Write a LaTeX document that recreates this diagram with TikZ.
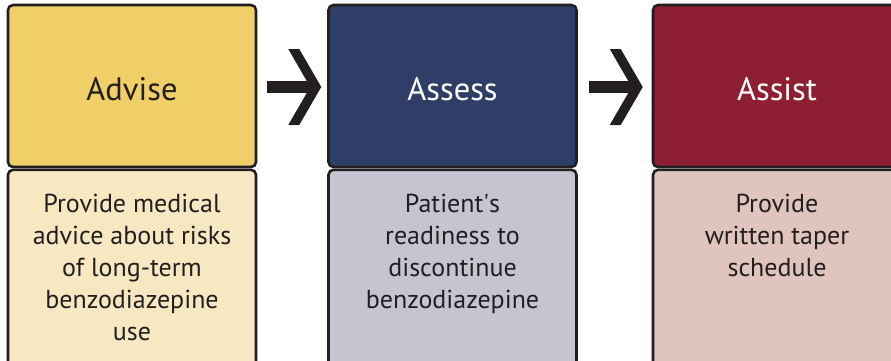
\documentclass[tikz,border=0pt]{standalone}
\usepackage{fontspec}
\setmainfont{PT Sans}
\usetikzlibrary{calc}
\definecolor{ink}{HTML}{231F20}
\definecolor{yelH}{HTML}{F0CF68}
\definecolor{yelB}{HTML}{F8E8C2}
\definecolor{navH}{HTML}{2E3E66}
\definecolor{navB}{HTML}{C5C5D2}
\definecolor{redH}{HTML}{8E1E32}
\definecolor{redB}{HTML}{E0C5BF}
\tikzset{
  hdr/.style={draw=ink, line width=2.6pt, rounded corners=5pt, minimum width=248pt, minimum height=162pt, font=\fontsize{32.5}{36}\selectfont, inner sep=0pt, text height=28pt, text depth=0pt},
  bodybox/.style={draw=ink, line width=2.6pt, rounded corners=5pt, minimum width=248pt, minimum height=210pt, inner sep=0pt, anchor=north},
  bodytext/.style={anchor=north, align=center, text=ink, font=\fontsize{26}{32}\selectfont, inner sep=0pt},
  chev/.pic={
    \fill[ink] (-26,-6) rectangle (18,6);
    \fill[ink] (-5,-38) -- (6,-38) -- (28,0) -- (6,38) -- (-5,38) -- (17,0) -- cycle;
  }
}
\begin{document}
\begin{tikzpicture}[x=1pt,y=-1pt]
\useasboundingbox (0,0) rectangle (891,360);
\clip (0,0) rectangle (891,360);
% column 1
\node[hdr, fill=yelH, text=ink] (h1) at (132,86) {Advise};
\node[bodybox, fill=yelB] (b1) at (132,168.5) {};
\node[bodytext] (t1) at ([yshift=-25pt]b1.north) {Provide medical\\advice about risks\\of long-term\\benzodiazepine\\use};
% column 2
\node[hdr, fill=navH, text=white] (h2) at (452.5,86) {Assess};
\node[bodybox, fill=navB] (b2) at (452.5,168.5) {};
\node[bodytext] (t2) at ([yshift=-25pt]b2.north) {Patient\textquotesingle s\\readiness to\\discontinue\\benzodiazepine};
% column 3
\node[hdr, fill=redH, text=white] (h3) at (777,86) {Assist};
\node[bodybox, fill=redB] (b3) at (777,168.5) {};
\node[bodytext] (t3) at ([yshift=-25pt]b3.north) {Provide\\written taper\\schedule};
% arrows
\pic at ($(h1.east)!0.5!(h2.west)+(1,1)$) {chev};
\pic at ($(h2.east)!0.5!(h3.west)+(0,1)$) {chev};
\end{tikzpicture}
\end{document}
